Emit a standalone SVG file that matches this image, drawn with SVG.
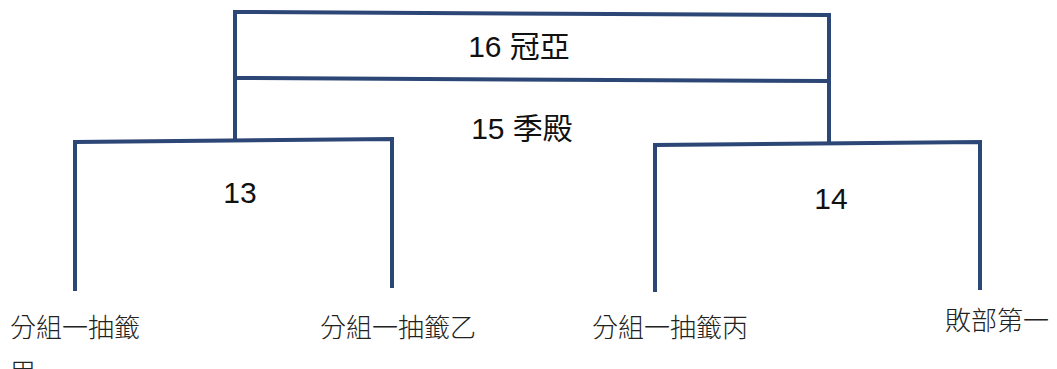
<svg xmlns="http://www.w3.org/2000/svg" width="1057" height="369" viewBox="0 0 1057 369">
<style>
.ln{stroke:#2C4675;stroke-width:4;fill:none;stroke-linecap:butt}
.num{font-family:"Liberation Sans","Noto Sans CJK TC",sans-serif;font-size:30px;fill:#111}
.lab{font-family:"Noto Sans CJK TC",sans-serif;font-size:26px;fill:#222;font-weight:300}
</style>
<rect width="1057" height="369" fill="#fff"/>
<g id="connectors">
<path class="ln" d="M235 140 V12 L829 15 V145"/>
<path class="ln" d="M235 78 L829 81"/>
<path class="ln" d="M75 291 V142 L392 139 V288"/>
<path class="ln" d="M655 292 V145 L980 142 V290"/>
</g>
<g id="final"><text class="num" x="519" y="57" text-anchor="middle">16 冠亞</text></g>
<g id="third"><text class="num" x="522" y="139" text-anchor="middle">15 季殿</text></g>
<g id="m13"><text class="num" x="240" y="203" text-anchor="middle">13</text></g>
<g id="m14"><text class="num" x="831" y="209" text-anchor="middle">14</text></g>
<g id="teamA"><text class="lab" x="10" y="337">分組一抽籤</text><text class="lab" x="10" y="382">甲</text></g>
<g id="teamB"><text class="lab" x="320" y="337">分組一抽籤乙</text></g>
<g id="teamC"><text class="lab" x="592" y="337">分組一抽籤丙</text></g>
<g id="teamD"><text class="lab" x="945" y="330">敗部第一</text></g>
</svg>
